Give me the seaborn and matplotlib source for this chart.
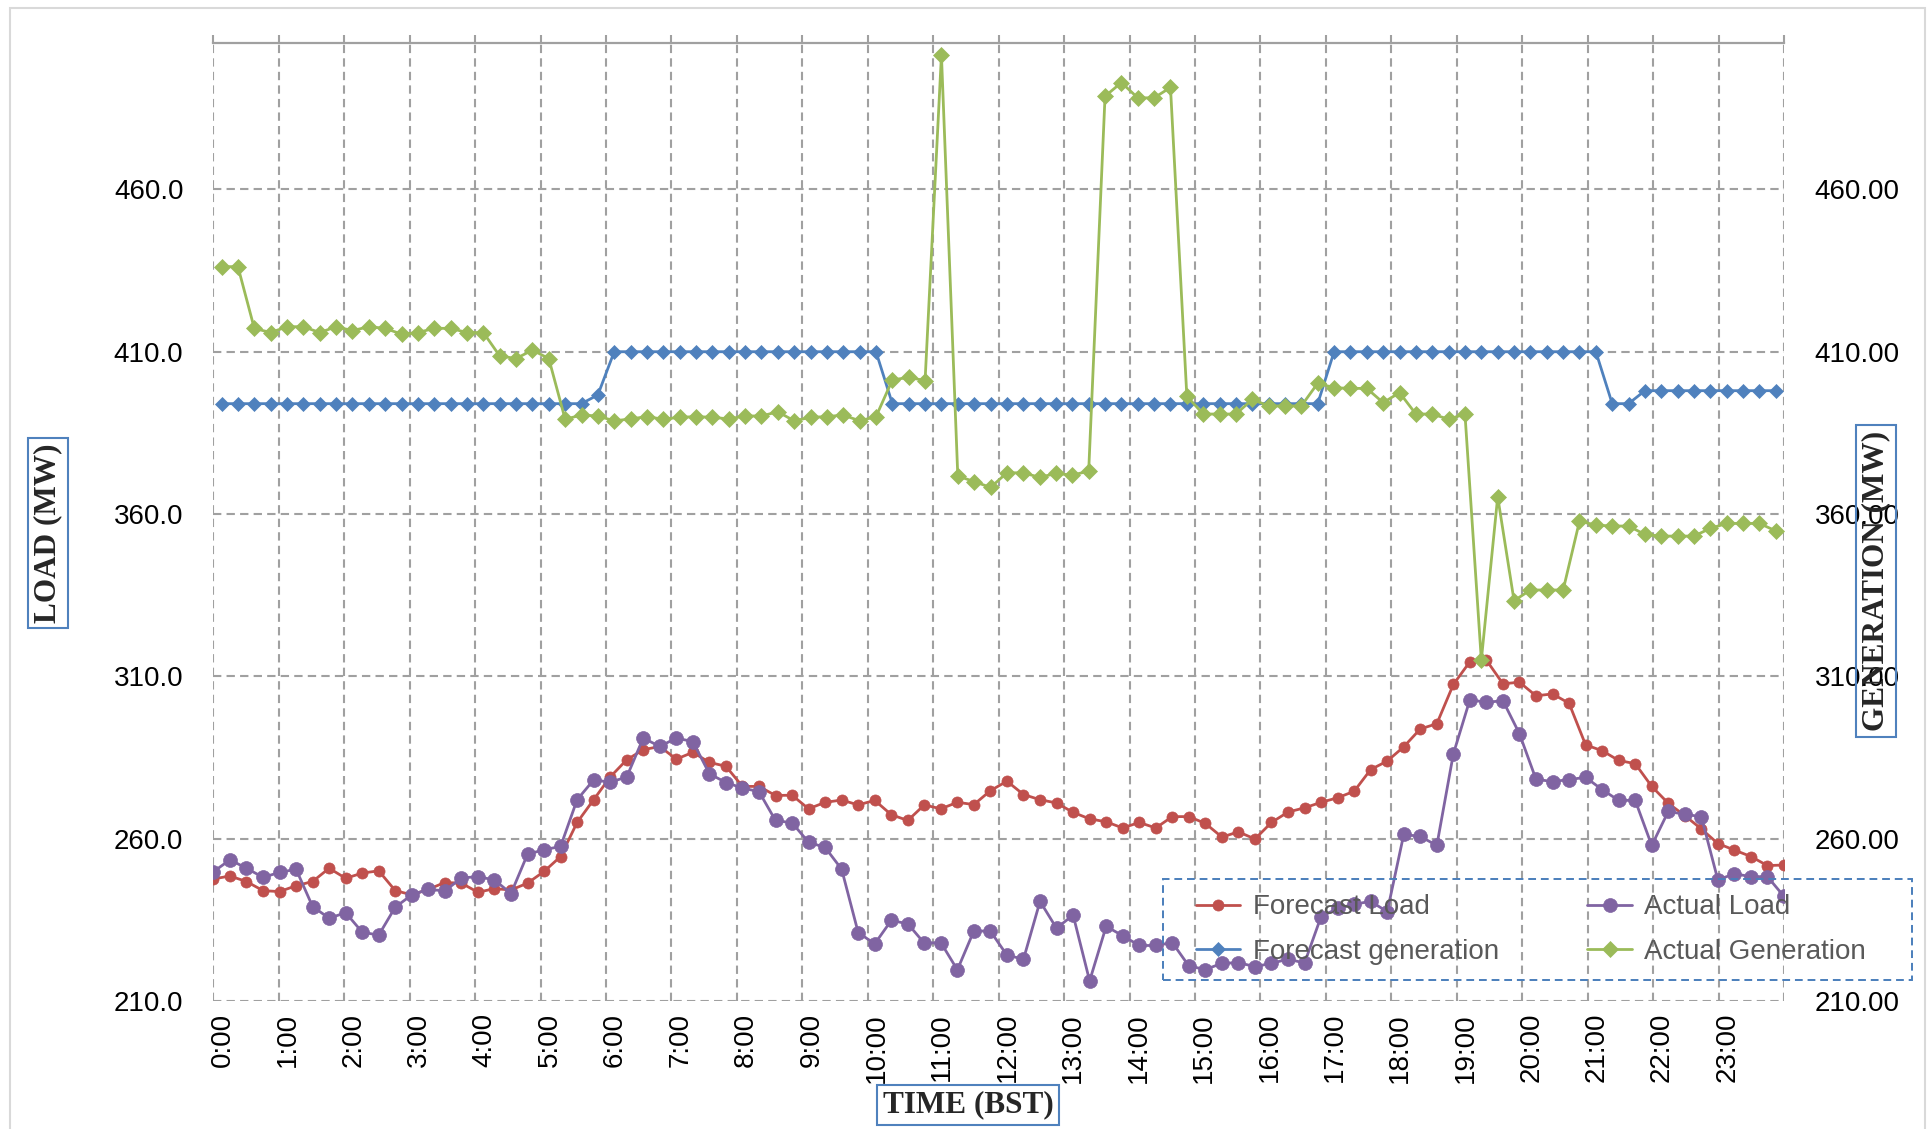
import numpy as np
import matplotlib
matplotlib.use("Agg")
import matplotlib.pyplot as plt
import matplotlib.transforms as mtransforms
from matplotlib.patches import Rectangle
import seaborn as sns

# values, one per 15 min (96 each)
forecast_load = [
    247.6, 248.5, 246.8, 244.0, 243.7, 245.5, 246.8, 250.9, 247.8, 249.4, 250.1, 244.0,
    242.7, 244.4, 246.5, 246.3, 243.5, 244.6, 244.2, 246.3, 249.9, 254.5, 265.0, 272.0,
    279.0, 284.3, 287.4, 288.4, 284.5, 286.6, 283.5, 282.3, 276.1, 276.1, 273.3, 273.4,
    269.2, 271.2, 271.9, 270.4, 271.8, 267.4, 265.6, 270.4, 269.2, 271.2, 270.5, 274.8,
    277.7, 273.6, 272.0, 271.0, 268.1, 266.1, 265.2, 263.3, 265.0, 263.3, 266.8, 266.8,
    264.7, 260.5, 262.1, 259.9, 265.0, 268.2, 269.5, 271.2, 272.6, 274.6, 281.3, 283.9,
    288.3, 293.8, 295.4, 307.5, 314.5, 315.0, 307.7, 308.2, 304.0, 304.6, 301.7, 288.9,
    287.1, 284.1, 283.1, 276.1, 270.9, 267.1, 263.0, 258.5, 256.5, 254.5, 251.7, 251.9]

actual_load = [
    249.8, 253.5, 250.9, 248.1, 249.6, 250.6, 239.1, 235.5, 237.2, 231.2, 230.3, 238.9,
    242.7, 244.4, 243.9, 247.9, 248.3, 247.3, 243.1, 255.2, 256.6, 257.6, 272.0, 278.1,
    277.4, 279.0, 291.0, 288.4, 291.0, 289.9, 280.0, 277.3, 275.6, 274.5, 265.6, 264.9,
    258.9, 257.3, 250.6, 231.1, 227.6, 234.8, 233.8, 227.8, 228.0, 219.6, 231.6, 231.5,
    224.1, 222.9, 240.7, 232.4, 236.5, 216.2, 233.0, 230.1, 227.1, 227.1, 228.0, 220.8,
    219.7, 221.6, 221.8, 220.6, 221.6, 222.9, 221.7, 236.0, 238.5, 239.8, 240.7, 237.5,
    261.3, 260.7, 257.9, 286.1, 302.8, 302.0, 302.5, 292.3, 278.3, 277.6, 278.2, 278.9,
    275.1, 271.8, 271.8, 257.9, 268.4, 267.5, 266.8, 247.3, 249.2, 248.3, 248.3, 242.2]

forecast_gen = [
    394.0, 394.0, 394.0, 394.0, 394.0, 394.0, 394.0, 394.0, 394.0, 394.0, 394.0, 394.0,
    394.0, 394.0, 394.0, 394.0, 394.0, 394.0, 394.0, 394.0, 394.0, 394.0, 394.0, 396.7,
    410.0, 410.0, 410.0, 410.0, 410.0, 410.0, 410.0, 410.0, 410.0, 410.0, 410.0, 410.0,
    410.0, 410.0, 410.0, 410.0, 410.0, 394.0, 394.0, 394.0, 394.0, 394.0, 394.0, 394.0,
    394.0, 394.0, 394.0, 394.0, 394.0, 394.0, 394.0, 394.0, 394.0, 394.0, 394.0, 394.0,
    394.0, 394.0, 394.0, 394.0, 394.0, 394.0, 394.0, 394.0, 410.0, 410.0, 410.0, 410.0,
    410.0, 410.0, 410.0, 410.0, 410.0, 410.0, 410.0, 410.0, 410.0, 410.0, 410.0, 410.0,
    410.0, 394.0, 394.0, 398.0, 398.0, 398.0, 398.0, 398.0, 398.0, 398.0, 398.0, 398.0]

actual_gen = [
    436.2, 436.2, 417.2, 415.9, 417.7, 417.7, 415.9, 417.7, 416.5, 417.7, 417.2, 415.4,
    415.9, 417.2, 417.2, 415.9, 415.9, 408.7, 407.9, 410.5, 407.9, 389.2, 390.5, 390.2,
    388.7, 389.3, 390.0, 389.2, 389.8, 390.0, 389.8, 389.3, 390.2, 390.2, 391.5, 388.7,
    389.8, 390.0, 390.5, 388.7, 390.0, 401.3, 402.1, 401.1, 501.4, 371.7, 370.0, 368.2,
    372.7, 372.7, 371.3, 372.5, 372.0, 373.2, 488.7, 492.9, 488.2, 488.2, 491.4, 396.3,
    390.8, 390.8, 390.8, 395.3, 393.3, 393.3, 393.3, 400.3, 398.9, 398.7, 398.7, 394.3,
    397.4, 390.8, 390.8, 389.2, 390.8, 315.0, 365.3, 333.3, 336.6, 336.6, 336.6, 357.8,
    356.6, 356.3, 356.3, 353.7, 353.2, 353.2, 353.2, 355.6, 357.1, 357.1, 357.1, 354.8]

hour_labels = [f"{h}:00" for h in range(24)]
y_ticks = [210, 260, 310, 360, 410, 460]

# load series spans the full width, generation sits mid-slot on its own category axis
load_x = np.arange(len(forecast_load)) * 24 / (len(forecast_load) - 1)
gen_x = (np.arange(len(actual_gen)) + 0.5) * 24 / len(actual_gen)

sns.set_theme(style="white")
plt.rcParams["font.family"] = ["Liberation Sans", "DejaVu Sans"]

RED, PURPLE, BLUE, GREEN = "#C0504D", "#8064A2", "#4F81BD", "#9BBB59"
GRID = "#a0a0a0"

W, H = 1928, 1129
fig = plt.figure(figsize=(W / 100, H / 100), dpi=100)
fig.patch.set_facecolor("white")
ax = fig.add_axes([213.4 / W, 1 - 1001 / H, (1784 - 213.4) / W, (1001 - 43.3) / H])
ax2 = ax.twinx()

sns.lineplot(x=load_x, y=forecast_load, ax=ax, color=RED, linewidth=2.0, marker="o",
             markersize=8, markeredgecolor=RED, markeredgewidth=0.5, label="Forecast Load", legend=False)
sns.lineplot(x=load_x, y=actual_load, ax=ax, color=PURPLE, linewidth=2.0, marker="o",
             markersize=10, markeredgecolor=PURPLE, markeredgewidth=0.5, label="Actual Load", legend=False)
sns.lineplot(x=gen_x, y=forecast_gen, ax=ax2, color=BLUE, linewidth=2.0, marker="D",
             markersize=7.5, markeredgecolor=BLUE, markeredgewidth=0.5, label="Forecast generation", legend=False)
sns.lineplot(x=gen_x, y=actual_gen, ax=ax2, color=GREEN, linewidth=2.0, marker="D",
             markersize=8.5, markeredgecolor=GREEN, markeredgewidth=0.5, label="Actual Generation", legend=False)

for a in (ax, ax2):
    a.set_xlim(0, 24)
    a.set_ylim(210, 505)
    a.set_yticks(y_ticks)
    a.set_xlabel("")
    a.set_ylabel("")
    for s in a.spines.values():
        s.set_visible(False)

ax.set_xticks(range(25))
ax.set_xticklabels(hour_labels + [""])
ax.set_yticklabels([f"{v:.1f}" for v in y_ticks])
ax2.set_yticklabels([f"{v:.2f}" for v in y_ticks])

ax.grid(True, color=GRID, linewidth=1.5, linestyle=(0, (4, 2.5)))
ax2.grid(False)
ax.spines["top"].set_visible(True)
ax.spines["top"].set_color(GRID)
ax.spines["top"].set_linewidth(1.6)

ax.tick_params(axis="x", bottom=False, top=True, labelbottom=True, labeltop=False,
               direction="out", length=6, width=1.5, color=GRID, pad=2.6,
               labelsize=20, labelrotation=90, labelcolor="black")
ax.tick_params(axis="y", left=False, length=0, pad=21.6, labelsize=20, labelcolor="black")
ax2.tick_params(axis="y", right=False, length=0, pad=22, labelsize=20, labelcolor="black")

shift = mtransforms.ScaledTranslation(9 / 100, 0, fig.dpi_scale_trans)
for lab in ax.get_xticklabels():
    lab.set_transform(lab.get_transform() + shift)

# legend: dashed frame drawn by hand, entries laid out inside it
fx0, fx1, fy0, fy1 = 1163, 1912, 879, 980
to_ax = lambda x, y: ((x - 213.4) / (1784 - 213.4), (1001 - y) / (1001 - 43.3))
bx, by = to_ax(fx0, fy1)
bx1, by1 = to_ax(fx1, fy0)
ax2.add_patch(Rectangle((bx, by), bx1 - bx, by1 - by, transform=ax2.transAxes, fill=False,
                        edgecolor="#4a7ebb", linewidth=1.4, linestyle=(0, (4, 2.5)), clip_on=False, zorder=5))
lines = [ax.lines[0], ax2.lines[0], ax.lines[1], ax2.lines[1]]
lx0, ly0 = to_ax(1196, 980)
lx1, ly1 = to_ax(1866, 879)
leg = ax2.legend(lines, [l.get_label() for l in lines], ncol=2, loc="center left",
                 bbox_to_anchor=(lx0, ly0, lx1 - lx0, ly1 - ly0), mode="expand", borderaxespad=0,
                 borderpad=0, frameon=False, fontsize=20, handlelength=1.6, handletextpad=0.45,
                 labelspacing=0.65)
for t in leg.get_texts():
    t.set_color("#595959")

serif = ["Liberation Serif", "DejaVu Serif"]
box = dict(boxstyle="square,pad=0.18", fc="none", ec=BLUE, lw=1.5)
fig.text(48 / W, 1 - 533 / H, "LOAD (MW)", rotation=90, ha="center", va="center", fontsize=22.5,
         fontweight="bold", family=serif, bbox=box)
fig.text(1876 / W, 1 - 581 / H, "GENERATION (MW)", rotation=90, ha="center", va="center", fontsize=22.5,
         fontweight="bold", family=serif, bbox=box)
fig.text(968 / W, 1 - 1105 / H, "TIME (BST)", ha="center", va="center", fontsize=22.5,
         fontweight="bold", family=serif, bbox=box)

fig.patches.append(Rectangle((10 / W, -0.01), (1925 - 10) / W, 1.01 - 8 / H, transform=fig.transFigure,
                             fill=False, edgecolor="#d9d9d9", linewidth=1.5))

fig.savefig("out.png", dpi=100)
